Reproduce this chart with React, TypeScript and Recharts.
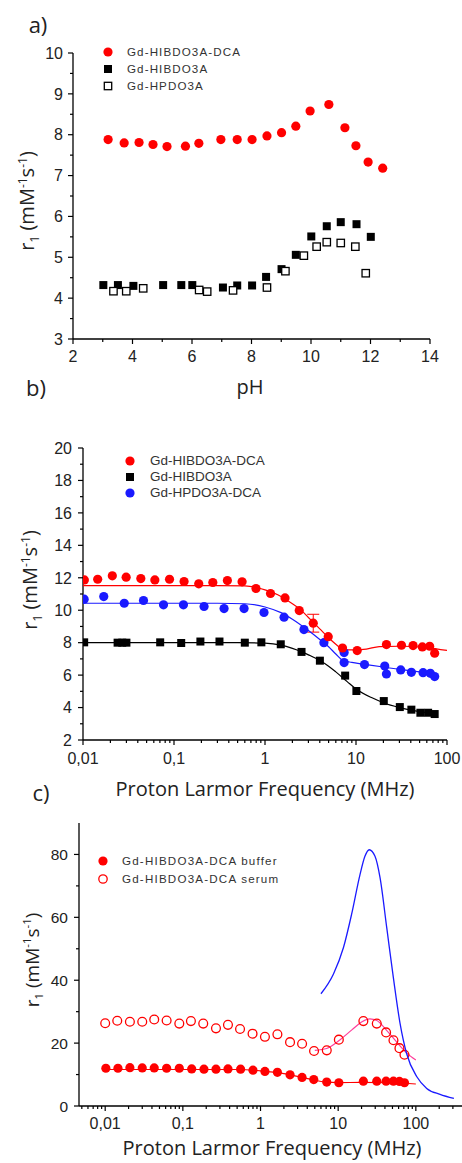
import React from 'react';
import { ScatterChart, Scatter, XAxis, YAxis, ErrorBar } from 'recharts';

// ---------- Panel a (r1 vs pH) ----------
const aDcaX = [3.18, 3.72, 4.22, 4.69, 5.16, 5.78, 6.23, 6.97, 7.52, 8.02, 8.52, 9.01, 9.49, 9.97, 10.6, 11.14, 11.51, 11.92, 12.41];
const aDcaY = [7.88, 7.80, 7.81, 7.76, 7.71, 7.72, 7.79, 7.88, 7.88, 7.88, 7.97, 8.05, 8.21, 8.58, 8.74, 8.17, 7.73, 7.33, 7.18];
const aHibX = [3.02, 3.51, 4.03, 5.03, 5.64, 6.01, 7.04, 7.52, 8.02, 8.49, 9.01, 9.49, 10.01, 10.53, 11.0, 11.53, 12.01];
const aHibY = [4.32, 4.32, 4.30, 4.32, 4.32, 4.32, 4.26, 4.31, 4.31, 4.52, 4.71, 5.06, 5.51, 5.76, 5.86, 5.81, 5.50];
const aHpX = [3.36, 3.79, 4.36, 6.24, 6.51, 7.38, 8.52, 9.14, 9.76, 10.19, 10.53, 11.0, 11.49, 11.84];
const aHpY = [4.17, 4.17, 4.24, 4.20, 4.16, 4.19, 4.26, 4.66, 5.04, 5.26, 5.37, 5.35, 5.26, 4.61];
const aXMajor = [2, 4, 6, 8, 10, 12, 14];
const aXMinor = [3, 5, 7, 9, 11, 13];
const aYMajor = [3, 4, 5, 6, 7, 8, 9, 10];
const aYMinor = [3.5, 4.5, 5.5, 6.5, 7.5, 8.5, 9.5];
const aLegend = ['Gd-HIBDO3A-DCA', 'Gd-HIBDO3A', 'Gd-HPDO3A'];

// ---------- Panel b (NMRD) ----------
const bDcaX = [0.01035, 0.0145, 0.021, 0.0298, 0.0432, 0.0616, 0.0893, 0.129, 0.187, 0.267, 0.386, 0.56, 0.796, 1.15, 1.66, 2.38, 3.39, 4.95, 7.11, 10.3, 21.6, 31.6, 42.4, 53.6, 64.5, 73.2];
const bDcaY = [11.87, 11.91, 12.12, 12.04, 11.95, 11.87, 11.91, 11.77, 11.63, 11.71, 11.83, 11.75, 11.34, 11.03, 10.76, 9.98, 9.20, 8.37, 7.67, 7.51, 7.88, 7.84, 7.82, 7.74, 7.78, 7.35];
const bDcaErr = [0, 0, 0, 0, 0, 0, 0, 0, 0, 0, 0, 0, 0, 0, 0, 0, 0.55, 0, 0, 0, 0, 0, 0, 0, 0, 0];
const bDcaFitX = [0.01, 0.3, 0.6, 0.8, 1, 1.5, 2, 2.5, 3, 4, 5, 6, 7, 8, 10, 13, 18, 30, 60, 100];
const bDcaFitY = [11.52, 11.52, 11.5, 11.4, 11.25, 10.85, 10.4, 10.0, 9.55, 8.85, 8.3, 7.9, 7.62, 7.55, 7.55, 7.6, 7.76, 7.78, 7.7, 7.52];
const bHibX = [0.0103, 0.024, 0.027, 0.030, 0.0705, 0.12, 0.195, 0.316, 0.6, 0.912, 1.49, 2.52, 4.01, 7.6, 10.1, 20.2, 30.3, 40.6, 51.0, 62.0, 73.2];
const bHibY = [8.02, 8.0, 8.0, 8.0, 8.02, 7.98, 8.07, 8.07, 8.0, 8.02, 7.90, 7.43, 6.89, 5.97, 5.02, 4.40, 4.03, 3.87, 3.68, 3.68, 3.60];
const bHibFitX = [0.01, 0.5, 1, 1.5, 2, 2.5, 3, 4, 5, 6, 8, 10, 15, 20, 30, 50, 75];
const bHibFitY = [8.0, 8.0, 7.97, 7.85, 7.65, 7.45, 7.25, 6.9, 6.55, 6.2, 5.6, 5.15, 4.6, 4.3, 4.0, 3.75, 3.62];
const bHpX = [0.0103, 0.0169, 0.0284, 0.0462, 0.0767, 0.127, 0.214, 0.355, 0.589, 0.975, 1.62, 2.68, 4.44, 7.41, 7.41, 12.4, 20.7, 21.6, 31.0, 40.6, 54.6, 65.6, 73.2];
const bHpY = [10.68, 10.84, 10.43, 10.60, 10.33, 10.33, 10.23, 10.10, 10.10, 9.86, 9.57, 8.81, 8.00, 7.39, 6.77, 6.65, 6.56, 6.07, 6.32, 6.17, 6.15, 6.11, 5.91];
const bHpFitX = [0.01, 0.3, 0.6, 1, 1.5, 2, 3, 4, 5, 6, 7, 9, 12, 20, 30, 50, 75];
const bHpFitY = [10.43, 10.43, 10.4, 10.2, 9.85, 9.45, 8.75, 8.2, 7.75, 7.3, 6.95, 6.78, 6.68, 6.5, 6.35, 6.2, 6.05];
const bXMajor = [0.01, 0.1, 1, 10, 100];
const bXLabels = ['0,01', '0,1', '1', '10', '100'];
const bXMinor = [0.02, 0.03, 0.04, 0.05, 0.06, 0.07, 0.08, 0.09, 0.2, 0.3, 0.4, 0.5, 0.6, 0.7, 0.8, 0.9, 2, 3, 4, 5, 6, 7, 8, 9, 20, 30, 40, 50, 60, 70, 80, 90];
const bYMajor = [2, 4, 6, 8, 10, 12, 14, 16, 18, 20];
const bYMinor = [3, 5, 7, 9, 11, 13, 15, 17, 19];
const bLegend = ['Gd-HIBDO3A-DCA', 'Gd-HIBDO3A', 'Gd-HPDO3A-DCA'];

// ---------- Panel c (buffer vs serum) ----------
const cBufX = [0.0102, 0.0146, 0.0208, 0.030, 0.0428, 0.0618, 0.090, 0.130, 0.187, 0.267, 0.381, 0.554, 0.80, 1.14, 1.65, 2.4, 3.43, 4.85, 7.12, 10.2, 21.1, 31.4, 41.4, 51.5, 61.5, 71.4];
const cBufY = [12.0, 12.0, 12.2, 12.1, 12.1, 12.0, 12.0, 11.8, 11.7, 11.7, 11.8, 11.7, 11.4, 11.0, 10.7, 9.9, 9.1, 8.4, 7.6, 7.4, 7.9, 7.9, 7.9, 7.9, 7.8, 7.4];
const cBufFitX = [0.01, 0.5, 1, 2, 3, 5, 7, 10, 20, 50, 100];
const cBufFitY = [11.6, 11.6, 11.2, 10.3, 9.4, 8.2, 7.6, 7.45, 7.5, 7.4, 7.0];
const cSerX = [0.01, 0.0143, 0.0208, 0.030, 0.0428, 0.0618, 0.090, 0.127, 0.183, 0.267, 0.381, 0.545, 0.79, 1.14, 1.65, 2.4, 3.43, 4.89, 7.13, 10.2, 21.1, 31.4, 41.4, 51.5, 61.5, 71.4];
const cSerY = [26.3, 27.1, 26.8, 26.8, 27.5, 27.2, 26.2, 27.0, 26.2, 24.7, 25.8, 24.5, 23.0, 22.0, 22.8, 20.3, 19.8, 17.5, 17.7, 21.1, 27.0, 26.2, 23.4, 20.9, 18.4, 16.3];
const cSerFitX = [5.0, 7.1, 10.6, 15, 20, 25.6, 31.4, 42.3, 56.8, 76, 100];
const cSerFitY = [17.7, 18.3, 21.1, 24.2, 26.7, 27.7, 27.2, 24.0, 20.3, 16.9, 14.6];
const cBlueX = [6.0, 8.7, 11.7, 14.9, 19.1, 22.1, 25.1, 29.8, 34.6, 42.2, 51.3, 62.7, 76, 103, 138, 205, 309];
const cBlueY = [35.7, 42.0, 50.4, 61.0, 73.6, 79.4, 81.5, 79.4, 72.6, 56.7, 40.9, 26.2, 16.7, 9.3, 5.6, 3.7, 2.4];
const cXMajor = [0.01, 0.1, 1, 10, 100];
const cXLabels = ['0,01', '0,1', '1', '10', '100'];
const cXMinor = [0.005, 0.006, 0.007, 0.008, 0.009, 0.02, 0.03, 0.04, 0.05, 0.06, 0.07, 0.08, 0.09, 0.2, 0.3, 0.4, 0.5, 0.6, 0.7, 0.8, 0.9, 2, 3, 4, 5, 6, 7, 8, 9, 20, 30, 40, 50, 60, 70, 80, 90, 200, 300];
const cYMajor = [0, 20, 40, 60, 80];
const cYMinor = [10, 30, 50, 70];
const cLegend = ['Gd-HIBDO3A-DCA buffer', 'Gd-HIBDO3A-DCA serum'];

// ---------- helpers ----------
const zip = (xs: number[], ys: number[], es?: number[]) =>
  xs.map((x, i) => (es ? { x, y: ys[i], e: es[i] } : { x, y: ys[i] }));

const TICK_FONT = '"Liberation Sans", Arial, sans-serif';
const TITLE_FONT = '"Open Sans", "DejaVu Sans", sans-serif';
const RED = '#ff0000';
const BLUE = '#1a1aff';

const findIdx = (v: number, arr: number[]) =>
  arr.findIndex((m) => Math.abs(m - v) <= 1e-6 * Math.max(1e-9, Math.abs(m)) || (m === 0 && Math.abs(v) < 1e-9));

const makeBottomTick = (majors: number[], labels: string[], fs: number, off: number) => (p: any) => {
  const { x, y, payload } = p;
  const idx = findIdx(payload.value, majors);
  const major = idx >= 0;
  return (
    <g>
      <line x1={x} x2={x} y1={y} y2={y + (major ? 5 : 3)} stroke="#000" strokeWidth={1.2} />
      {major && (
        <text x={x} y={y + off} textAnchor="middle" fontSize={fs} fill="#222" fontFamily={TICK_FONT}>
          {labels[idx]}
        </text>
      )}
    </g>
  );
};

const makeLeftTick = (majors: number[], labels: string[], fs: number, off: number) => (p: any) => {
  const { x, y, payload } = p;
  const idx = findIdx(payload.value, majors);
  const major = idx >= 0;
  return (
    <g>
      <line x1={x - (major ? 5 : 3)} x2={x} y1={y} y2={y} stroke="#000" strokeWidth={1.2} />
      {major && (
        <text x={x - off} y={y + fs * 0.36} textAnchor="end" fontSize={fs} fill="#222" fontFamily={TICK_FONT}>
          {labels[idx]}
        </text>
      )}
    </g>
  );
};

const redDot = (p: any) => <circle cx={p.cx} cy={p.cy} r={4.6} fill={RED} />;
const blueDot = (p: any) => <circle cx={p.cx} cy={p.cy} r={4.6} fill={BLUE} />;
const openRed = (p: any) => <circle cx={p.cx} cy={p.cy} r={4.4} fill="none" stroke={RED} strokeWidth={1.3} />;
const blackSq = (p: any) => <rect x={p.cx - 4} y={p.cy - 4} width={8} height={8} fill="#000" />;
const openSq = (p: any) => (
  <rect x={p.cx - 3.7} y={p.cy - 3.7} width={7.4} height={7.4} fill="#fff" stroke="#000" strokeWidth={1.3} />
);
const noShape = () => <g />;

const axisLine = { stroke: '#000', strokeWidth: 1.3 };

const YLabel = ({ cx, cy, fs }: { cx: number; cy: number; fs: number }) => (
  <div
    style={{
      position: 'absolute',
      left: cx,
      top: cy,
      transform: 'translate(-50%, -50%) rotate(-90deg)',
      whiteSpace: 'nowrap',
      fontFamily: TITLE_FONT,
      fontSize: fs,
      color: '#222',
      lineHeight: 1,
    }}
  >
    r<sub style={{ fontSize: fs * 0.6 }}>1</sub> (mM<sup style={{ fontSize: fs * 0.6 }}>-1</sup>s<sup style={{ fontSize: fs * 0.6 }}>-1</sup>)
  </div>
);

const Title = ({ cx, cy, fs, text }: { cx: number; cy: number; fs: number; text: string }) => (
  <div
    style={{
      position: 'absolute',
      left: cx,
      top: cy,
      transform: 'translate(-50%, -50%)',
      whiteSpace: 'nowrap',
      fontFamily: TITLE_FONT,
      fontSize: fs,
      color: '#222',
      lineHeight: 1,
    }}
  >
    {text}
  </div>
);

type Mark = 'redDot' | 'blackSq' | 'openSq' | 'blueDot' | 'openRed';
const LegendMark = ({ m }: { m: Mark }) => (
  <svg width={12} height={12} style={{ display: 'block' }}>
    {m === 'redDot' && <circle cx={6} cy={6} r={4.6} fill={RED} />}
    {m === 'blueDot' && <circle cx={6} cy={6} r={4.6} fill={BLUE} />}
    {m === 'openRed' && <circle cx={6} cy={6} r={4.2} fill="none" stroke={RED} strokeWidth={1.3} />}
    {m === 'blackSq' && <rect x={2} y={2} width={8} height={8} fill="#000" />}
    {m === 'openSq' && <rect x={2.3} y={2.3} width={7.4} height={7.4} fill="#fff" stroke="#000" strokeWidth={1.3} />}
  </svg>
);

const LegendBox = ({
  mx, ys, tx, names, marks, fs, ls,
}: { mx: number; ys: number[]; tx: number; names: string[]; marks: Mark[]; fs: number; ls: number }) => (
  <>
    {names.map((n, i) => (
      <React.Fragment key={n}>
        <div style={{ position: 'absolute', left: mx - 6, top: ys[i] - 6 }}>
          <LegendMark m={marks[i]} />
        </div>
        <div
          style={{
            position: 'absolute',
            left: tx,
            top: ys[i],
            transform: 'translateY(-50%)',
            fontFamily: TICK_FONT,
            fontSize: fs,
            letterSpacing: ls,
            color: '#333',
            whiteSpace: 'nowrap',
            lineHeight: 1,
          }}
        >
          {n}
        </div>
      </React.Fragment>
    ))}
  </>
);

export default function App() {
  return (
    <div style={{ position: 'absolute', left: 0, top: 0, width: 462, height: 1163, background: '#fff', overflow: 'hidden' }}>
      {/* Panel a */}
      <div style={{ position: 'absolute', left: 0, top: 0 }}>
        <ScatterChart width={462} height={380} margin={{ top: 53, right: 32, bottom: 11, left: 0 }}>
          <XAxis
            type="number" dataKey="x" domain={[2, 14]} ticks={[...aXMajor, ...aXMinor]} interval={0}
            allowDataOverflow height={30} tickSize={0} tickMargin={0} tickLine={false} axisLine={axisLine}
            tick={makeBottomTick(aXMajor, aXMajor.map(String), 16, 23)}
          />
          <YAxis
            type="number" dataKey="y" domain={[3, 10]} ticks={[...aYMajor, ...aYMinor]} interval={0}
            allowDataOverflow width={73} tickSize={0} tickMargin={0} tickLine={false} axisLine={axisLine}
            tick={makeLeftTick(aYMajor, aYMajor.map(String), 16, 10)}
          />
          <Scatter data={zip(aHibX, aHibY)} shape={blackSq} isAnimationActive={false} />
          <Scatter data={zip(aHpX, aHpY)} shape={openSq} isAnimationActive={false} />
          <Scatter data={zip(aDcaX, aDcaY)} shape={redDot} isAnimationActive={false} />
        </ScatterChart>
      </div>
      <Title cx={38} cy={24} fs={22} text="a)" />
      <YLabel cx={29} cy={201} fs={20} />
      <LegendBox mx={108} ys={[52, 69, 86]} tx={127} names={aLegend} marks={['redDot', 'blackSq', 'openSq']} fs={11.6} ls={1.1} />

      {/* Panel b */}
      <div style={{ position: 'absolute', left: 0, top: 400 }}>
        <ScatterChart width={462} height={380} margin={{ top: 48, right: 15, bottom: 10, left: 0 }}>
          <XAxis
            type="number" dataKey="x" scale="log" domain={[0.01, 100]} ticks={[...bXMajor, ...bXMinor]} interval={0}
            allowDataOverflow height={30} tickSize={0} tickMargin={0} tickLine={false} axisLine={axisLine}
            tick={makeBottomTick(bXMajor, bXLabels, 16, 24)}
          />
          <YAxis
            type="number" dataKey="y" domain={[2, 20]} ticks={[...bYMajor, ...bYMinor]} interval={0}
            allowDataOverflow width={83} tickSize={0} tickMargin={0} tickLine={false} axisLine={axisLine}
            tick={makeLeftTick(bYMajor, bYMajor.map(String), 16, 11)}
          />
          <Scatter data={zip(bHibFitX, bHibFitY)} shape={noShape} line={{ stroke: '#000', strokeWidth: 1.2 }} lineJointType="monotoneX" isAnimationActive={false} />
          <Scatter data={zip(bHpFitX, bHpFitY)} shape={noShape} line={{ stroke: BLUE, strokeWidth: 1.2 }} lineJointType="monotoneX" isAnimationActive={false} />
          <Scatter data={zip(bDcaFitX, bDcaFitY)} shape={noShape} line={{ stroke: RED, strokeWidth: 1.2 }} lineJointType="monotoneX" isAnimationActive={false} />
          <Scatter data={zip(bHibX, bHibY)} shape={blackSq} isAnimationActive={false} />
          <Scatter data={zip(bHpX, bHpY)} shape={blueDot} isAnimationActive={false} />
          <Scatter data={zip(bDcaX, bDcaY, bDcaErr)} shape={redDot} isAnimationActive={false}>
            <ErrorBar dataKey="e" direction="y" width={6} stroke={RED} strokeWidth={1} />
          </Scatter>
        </ScatterChart>
      </div>
      <Title cx={36} cy={387} fs={22} text="b)" />
      <Title cx={250} cy={387} fs={20} text="pH" />
      <YLabel cx={32} cy={580} fs={20} />
      <LegendBox mx={130} ys={[461, 477, 493]} tx={150} names={bLegend} marks={['redDot', 'blackSq', 'blueDot']} fs={13.5} ls={0} />
      <Title cx={265} cy={789} fs={20} text="Proton Larmor Frequency (MHz)" />

      {/* Panel c */}
      <div style={{ position: 'absolute', left: 0, top: 800 }}>
        <ScatterChart width={462} height={363} margin={{ top: 23, right: 0, bottom: 27, left: 0 }}>
          <XAxis
            type="number" dataKey="x" scale="log" domain={[0.0046, 393]} ticks={[...cXMajor, ...cXMinor]} interval={0}
            allowDataOverflow height={30} tickSize={0} tickMargin={0} tickLine={false} axisLine={axisLine}
            tick={makeBottomTick(cXMajor, cXLabels, 16, 23)}
          />
          <YAxis
            type="number" dataKey="y" domain={[0, 90]} ticks={[...cYMajor, ...cYMinor]} interval={0}
            allowDataOverflow width={79} tickSize={0} tickMargin={0} tickLine={false} axisLine={axisLine}
            tick={makeLeftTick(cYMajor, cYMajor.map(String), 15.5, 11)}
          />
          <Scatter data={zip(cBufFitX, cBufFitY)} shape={noShape} line={{ stroke: RED, strokeWidth: 1.2 }} lineJointType="monotoneX" isAnimationActive={false} />
          <Scatter data={zip(cBufX, cBufY)} shape={redDot} isAnimationActive={false} />
          <Scatter data={zip(cSerFitX, cSerFitY)} shape={noShape} line={{ stroke: '#ff3d9a', strokeWidth: 1.2 }} lineJointType="monotoneX" isAnimationActive={false} />
          <Scatter data={zip(cSerX, cSerY)} shape={openRed} isAnimationActive={false} />
          <Scatter data={zip(cBlueX, cBlueY)} shape={noShape} line={{ stroke: BLUE, strokeWidth: 1.3 }} lineJointType="monotoneX" isAnimationActive={false} />
        </ScatterChart>
      </div>
      <Title cx={41} cy={792} fs={22} text="c)" />
      <YLabel cx={33} cy={960} fs={19} />
      <LegendBox mx={103} ys={[861, 879]} tx={122} names={cLegend} marks={['redDot', 'openRed']} fs={11.6} ls={1.2} />
      <Title cx={272} cy={1148} fs={20} text="Proton Larmor Frequency (MHz)" />
    </div>
  );
}
